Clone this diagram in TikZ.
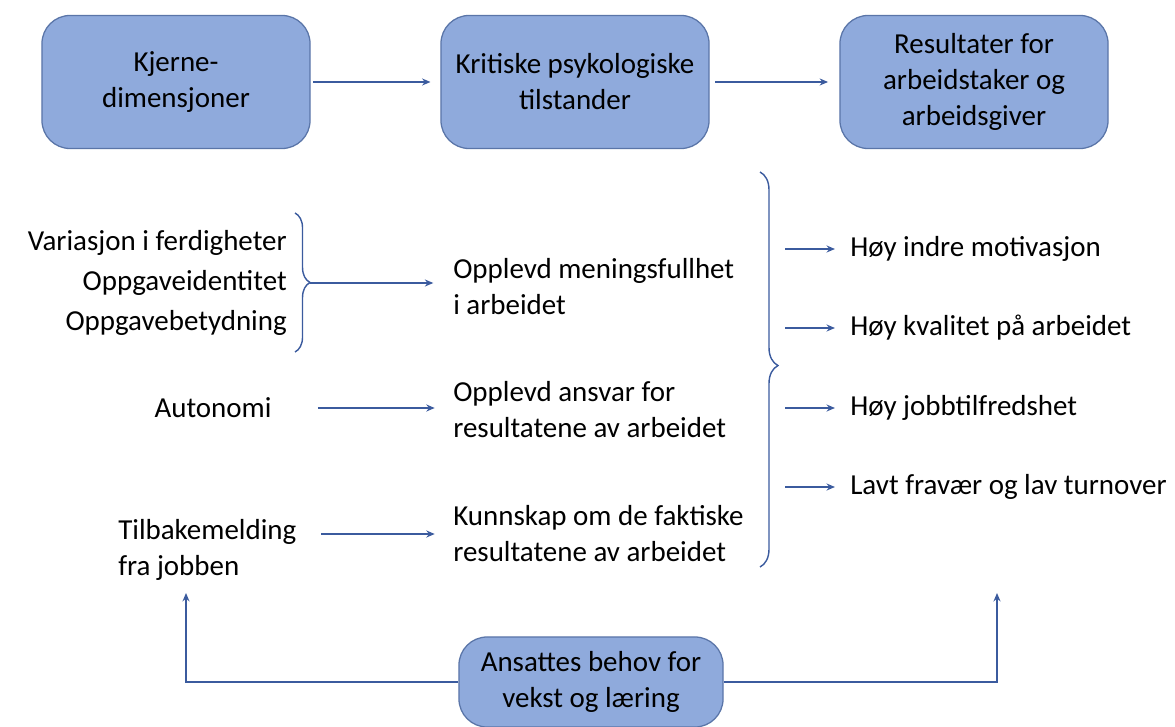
\documentclass[tikz,border=0pt]{standalone}
\usepackage{fontspec}
\setmainfont{Carlito}
\usetikzlibrary{arrows.meta,decorations.pathreplacing}
\definecolor{boxfill}{HTML}{8FAADC}
\definecolor{boxline}{HTML}{5A75A8}
\definecolor{linkblue}{HTML}{3B5B9E}

\begin{document}
\begin{tikzpicture}[
    x=0.025cm, y=-0.025cm,
    every node/.style={font=\fontsize{20.6}{25.6}\selectfont},
    stage/.style={draw=boxline, fill=boxfill, line width=0.9pt, rounded corners=20pt, minimum width=6.7cm, minimum height=3.325cm, align=center, inner sep=2pt},
    txt/.style={inner sep=0pt, align=left},
    arrow/.style={-{Stealth[length=6pt, width=5pt]}, line width=1pt, linkblue},
    bigarrow/.style={arrow, line width=1.9pt},
    brace/.style={decorate, linkblue, line width=1pt}
]
\useasboundingbox (0,0) rectangle (1175,727);

% Top row of stages
\node[stage] (kjerne) at (176,82) {Kjerne-\\dimensjoner};
\node[stage] (kritisk) at (575,82) {Kritiske psykologiske\\tilstander};
\node[stage] (resultat) at (974,82) {Resultater for\\arbeidstaker og\\arbeidsgiver};

\draw[bigarrow, shorten <=2pt, shorten >=7pt] (kjerne) -- (kritisk);
\draw[bigarrow, shorten <=4pt, shorten >=8pt] (kritisk) -- (resultat);

% Core dimensions
\node[txt, anchor=east, align=right, font=\fontsize{20.6}{28.5}\selectfont] (ferdig) at (287,283) {Variasjon i ferdigheter\\Oppgaveidentitet\\Oppgavebetydning};
\node[txt] (autonomi) at (213,408) {Autonomi};
\node[txt, anchor=west] (tilbake) at (118,550) {Tilbakemelding\\fra jobben};

% Psychological states
\node[txt, anchor=west] (mening) at (453,287) {Opplevd meningsfullhet\\i arbeidet};
\node[txt, anchor=west] (ansvar) at (453,410) {Opplevd ansvar for\\resultatene av arbeidet};
\node[txt, anchor=west] (kunnskap) at (453,534) {Kunnskap om de faktiske\\resultatene av arbeidet};

% Braces
\draw[brace, decoration={brace, amplitude=10.7pt}] (295,213) -- (295,352);
\coordinate (tip1) at (310,283);
\draw[brace, decoration={brace, amplitude=12.8pt, aspect=0.49}] (760,172) -- (760,567);
\coordinate (fan) at (785,365);

\draw[arrow, shorten >=14pt] (tip1) -- (tip1 -| mening.west);
\draw[arrow, shorten >=13pt] ([xshift=1.15cm]autonomi.east) -- (autonomi.east -| ansvar.west);
\draw[arrow, shorten >=13pt] ([xshift=0.62cm]tilbake.east |- kunnskap.west) -- (kunnskap.west);

% Outcomes
\node[txt, anchor=west] (res1) at (850,249) {Høy indre motivasjon};
\node[txt, anchor=west] (res2) at (850,328) {Høy kvalitet på arbeidet};
\node[txt, anchor=west] (res3) at (850,408) {Høy jobbtilfredshet};
\node[txt, anchor=west] (res4) at (850,487) {Lavt fravær og lav turnover};

\foreach \r in {res1,res2,res3,res4}
    \draw[arrow, shorten >=10.7pt] (fan |- \r.west) -- (\r.west);

% Growth need strength
\node[stage, minimum width=6.6cm, minimum height=2.25cm] (behov) at (591,682) {Ansattes behov for\\vekst og læring};
\coordinate (upL) at (186,593);
\coordinate (upR) at (997,593);
\draw[bigarrow] (behov.west) -| (upL);
\draw[bigarrow] (behov.east) -| (upR);

\end{tikzpicture}
\end{document}
